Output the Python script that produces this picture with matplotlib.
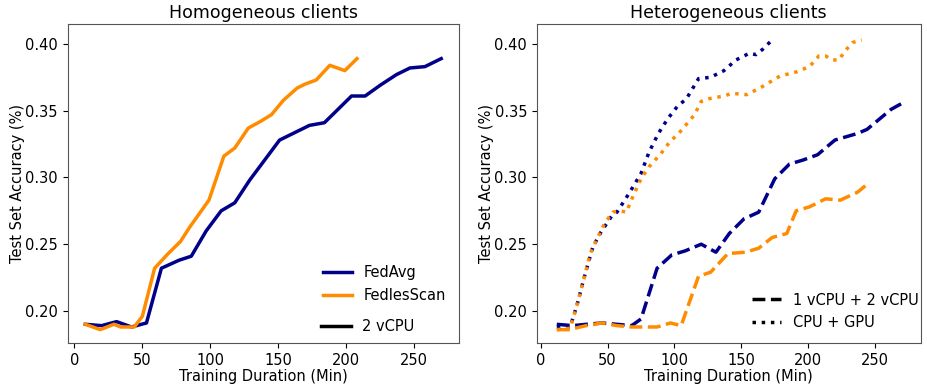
"""
Test accuracy over training time for FedAvg and FedlesScan,
homogeneous vs heterogeneous client setups.
"""

import matplotlib
matplotlib.use("Agg")
import matplotlib.pyplot as plt
from matplotlib.lines import Line2D

BLUE = "#00008b"
ORANGE = "#ff8c00"

# homogeneous clients (2 vCPU)
homo_fedavg_t = [8, 20, 31, 42, 53, 64, 77, 86, 97, 108, 118, 129, 140, 151, 161,
                 173, 184, 194, 204, 214, 225, 237, 247, 258, 270]
homo_fedavg_acc = [0.190, 0.189, 0.192, 0.188, 0.191, 0.232, 0.238, 0.241, 0.260, 0.275,
                   0.281, 0.298, 0.313, 0.328, 0.333, 0.339, 0.341, 0.351, 0.361, 0.361,
                   0.369, 0.377, 0.382, 0.383, 0.389]
homo_fedless_t = [8, 19, 29, 34, 44, 50, 59, 69, 78, 85, 99, 110, 118, 128, 137, 145,
                  154, 164, 170, 178, 188, 199, 208]
homo_fedless_acc = [0.190, 0.186, 0.190, 0.188, 0.188, 0.196, 0.232, 0.243, 0.252, 0.263,
                    0.283, 0.316, 0.322, 0.337, 0.342, 0.347, 0.358, 0.367, 0.370, 0.373,
                    0.384, 0.380, 0.389]

# heterogeneous clients, 1 vCPU + 2 vCPU
mix_fedavg_t = [12, 24, 34, 46, 57, 68, 75, 87, 98, 108, 120, 131, 141, 152, 163, 175,
                186, 196, 207, 220, 237, 244, 262, 271]
mix_fedavg_acc = [0.190, 0.189, 0.190, 0.191, 0.190, 0.189, 0.194, 0.232, 0.242, 0.245,
                  0.250, 0.244, 0.258, 0.269, 0.274, 0.299, 0.310, 0.313, 0.317, 0.328,
                  0.333, 0.336, 0.351, 0.356]
mix_fedless_t = [12, 21, 34, 46, 57, 68, 87, 97, 105, 118, 127, 140, 153, 163, 173, 184,
                 191, 201, 213, 224, 237, 243]
mix_fedless_acc = [0.186, 0.186, 0.189, 0.191, 0.189, 0.188, 0.188, 0.191, 0.189, 0.226,
                   0.229, 0.243, 0.244, 0.247, 0.255, 0.258, 0.275, 0.278, 0.284, 0.283,
                   0.289, 0.294]

# heterogeneous clients, CPU + GPU
gpu_fedavg_t = [12, 22, 27, 33, 39, 45, 53, 57, 66, 75, 81, 88, 95, 102, 109, 118, 127,
                137, 146, 156, 161, 166, 173]
gpu_fedavg_acc = [0.188, 0.188, 0.204, 0.227, 0.248, 0.259, 0.271, 0.274, 0.288, 0.303,
                  0.319, 0.333, 0.344, 0.353, 0.359, 0.374, 0.375, 0.380, 0.388, 0.393,
                  0.392, 0.396, 0.403]
gpu_fedless_t = [12, 22, 27, 33, 37, 42, 48, 54, 59, 64, 69, 75, 81, 90, 96, 104, 110,
                 115, 120, 126, 137, 143, 154, 164, 174, 179, 191, 201, 208, 213, 218,
                 223, 227, 233, 240]
gpu_fedless_acc = [0.186, 0.187, 0.204, 0.227, 0.243, 0.254, 0.266, 0.274, 0.275, 0.274,
                   0.286, 0.299, 0.308, 0.318, 0.326, 0.334, 0.341, 0.347, 0.357, 0.359,
                   0.361, 0.363, 0.362, 0.367, 0.373, 0.376, 0.379, 0.383, 0.391, 0.391,
                   0.388, 0.388, 0.394, 0.401, 0.403]

plt.rcParams["font.family"] = "DejaVu Sans"
plt.rcParams["font.size"] = 10.5

fig = plt.figure(figsize=(9.27, 3.92), dpi=100)
ax1 = fig.add_axes([0.073, 0.125, 0.422, 0.814])
ax2 = fig.add_axes([0.579, 0.125, 0.414, 0.814])

lw = 2.5
ax1.plot(homo_fedavg_t, homo_fedavg_acc, color=BLUE, lw=lw)
ax1.plot(homo_fedless_t, homo_fedless_acc, color=ORANGE, lw=lw)

ax2.plot(mix_fedavg_t, mix_fedavg_acc, color=BLUE, lw=lw, ls="--")
ax2.plot(mix_fedless_t, mix_fedless_acc, color=ORANGE, lw=lw, ls="--")
ax2.plot(gpu_fedavg_t, gpu_fedavg_acc, color=BLUE, lw=lw, ls=":")
ax2.plot(gpu_fedless_t, gpu_fedless_acc, color=ORANGE, lw=lw, ls=":")

for ax, title in [(ax1, "Homogeneous clients"), (ax2, "Heterogeneous clients")]:
    ax.set_title(title, fontsize=12.5, pad=4)
    ax.set_xlabel("Training Duration (Min)", labelpad=1)
    ax.set_ylabel("Test Set Accuracy (%)", labelpad=0)
    ax.set_ylim(0.176, 0.415)
    ax.set_yticks([0.20, 0.25, 0.30, 0.35, 0.40])
    ax.set_xticks([0, 50, 100, 150, 200, 250])
    for sp in ax.spines.values():
        sp.set_color("#555555")

ax1.set_xlim(-5, 283)
ax2.set_xlim(-3, 284)

# left panel: algorithm colours, then the client setup line style
algo_handles = [Line2D([], [], color=BLUE, lw=lw), Line2D([], [], color=ORANGE, lw=lw)]
leg1 = ax1.legend(algo_handles, ["FedAvg", "FedlesScan"], loc="lower right",
                  bbox_to_anchor=(1.0, 0.085), frameon=False, handlelength=2.0)
ax1.add_artist(leg1)
ax1.legend([Line2D([], [], color="black", lw=lw)], ["2 vCPU"], loc="lower right",
           bbox_to_anchor=(0.92, -0.012), frameon=False, handlelength=2.0)

setup_handles = [Line2D([], [], color="black", lw=lw, ls="--"),
                 Line2D([], [], color="black", lw=lw, ls=":")]
ax2.legend(setup_handles, ["1 vCPU + 2 vCPU", "CPU + GPU"], loc="lower right",
           bbox_to_anchor=(1.03, 0.0), frameon=False, handlelength=2.0)

fig.savefig("out.png", dpi=100)
